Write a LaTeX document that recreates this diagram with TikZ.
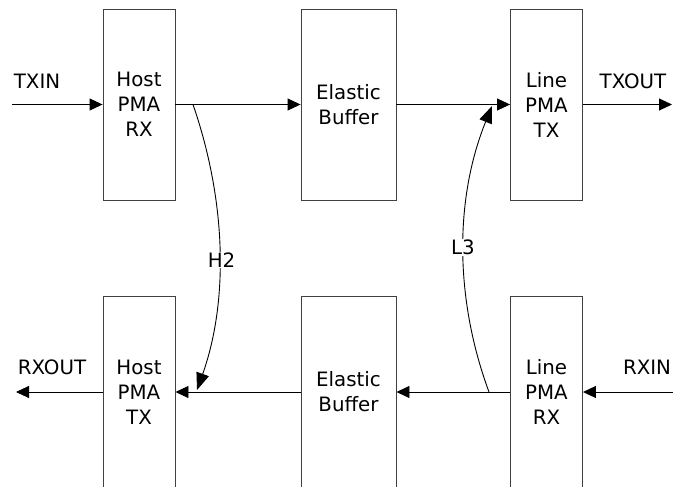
\documentclass[tikz,border=0pt]{standalone}
\usepackage{fontspec}
\setmainfont{DejaVu Sans}
\usetikzlibrary{arrows.meta}
\begin{document}
\begin{tikzpicture}[x=1pt,y=-1pt,
  blk/.style={draw=black!75,line width=0.9pt,minimum width=72pt,minimum height=191pt,inner sep=0pt,align=center,font=\fontsize{19.8}{25}\selectfont},
  wide/.style={minimum width=95pt},
  lbl/.style={inner sep=1pt,font=\fontsize{19.8}{25}\selectfont},
  sig/.style={line width=0.9pt,-{Triangle[length=13pt,width=12pt]}},
  loopback/.style={line width=0.9pt,-{Triangle[length=17pt,width=13pt]}}]
\useasboundingbox (0,0) rectangle (673,487);
\clip (0,0) rectangle (673,487);
% top row
\node[blk] (hrx) at (139,104.5) {Host\\PMA\\RX};
\node[blk,wide] (eb1) at (348.5,104.5) {Elastic\\Buffer};
\node[blk] (ltx) at (546.5,104.5) {Line\\PMA\\TX};
% bottom row
\node[blk] (htx) at (139,392) {Host\\PMA\\TX};
\node[blk,wide] (eb2) at (348.5,392) {Elastic\\Buffer};
\node[blk] (lrx) at (546.5,392) {Line\\PMA\\RX};
% free ends
\coordinate (txin) at (12,104.5);
\coordinate (txout) at (672,104.5);
\coordinate (rxout) at (16,392);
\coordinate (rxin) at (673,392);
\coordinate (h2s) at (193,104.5);
\coordinate (h2e) at (197,390);
\coordinate (l3s) at (489,392);
\coordinate (l3e) at (492,106);
% labels
\node[lbl] (ltxin) at (37,81) {TXIN};
\node[lbl] (ltxout) at (633,81) {TXOUT};
\node[lbl] (lrxout) at (52,367) {RXOUT};
\node[lbl] (lrxin) at (647,367) {RXIN};
% signal arrows
\draw[sig] (txin) -- (hrx.west);
\draw[sig] (hrx.east) -- (eb1.west);
\draw[sig] (eb1.east) -- (ltx.west);
\draw[sig] (ltx.east) -- (txout);
\draw[sig] (rxin) -- (lrx.east);
\draw[sig] (lrx.west) -- (eb2.east);
\draw[sig] (eb2.west) -- (htx.east);
\draw[sig] (htx.west) -- (rxout);
% loopbacks
\draw[loopback] (h2s) .. controls (226,200) and (229,300) .. (h2e);
\draw[loopback] (l3s) .. controls (455,300) and (454,200) .. (l3e);
\node[lbl,fill=white] (h2) at (221.5,260) {H2};
\node[lbl,fill=white] (l3) at (463,247.5) {L3};
\end{tikzpicture}
\end{document}
